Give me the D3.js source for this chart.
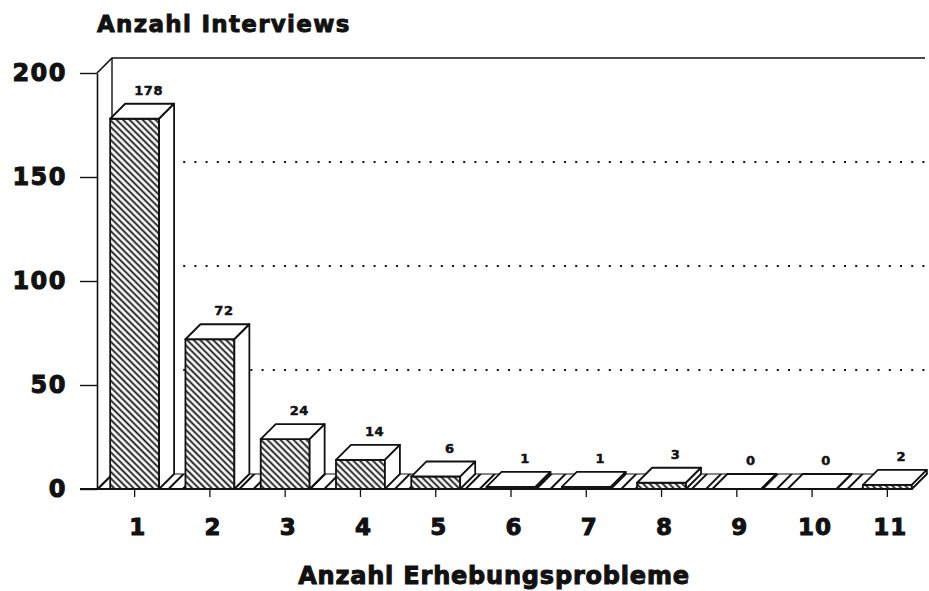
<!DOCTYPE html>
<html lang="de">
	<head>
		<meta charset="utf-8">
		<title>Anzahl Interviews</title>
		<script src="https://d3js.org/d3.v7.min.js"></script>
		<style type="text/css">
			body, html {
				margin: 0;
				padding: 0;
				background: #fff;
			}
			svg text {
				font-family: "DejaVu Sans", sans-serif;
				font-weight: bold;
				fill: #111;
				stroke: #111;
			}
		</style>
	</head>
	<body>
		<div id="chart"></div>
		<script type="text/javascript">

		var categories = ["1", "2", "3", "4", "5", "6", "7", "8", "9", "10", "11"]
		var counts = [178, 72, 24, 14, 6, 1, 1, 3, 0, 0, 2]
		var yTicks = [0, 50, 100, 150, 200]
		var gridValues = [50, 100, 150]
		var yTitle = "Anzahl Interviews"
		var xTitle = "Anzahl Erhebungsprobleme"

		var width = 929, height = 591
		var depth = 15   // 3d offset to the back wall
		var ink = "#111"

		var svg = d3.select("#chart").append("svg")
			.attr("width", width)
			.attr("height", height)

		var x = d3.scaleBand()
			.domain(categories)
			.range([97, 925])
			.paddingInner(0.35)
			.paddingOuter(0.175)

		var y = d3.scaleLinear()
			.domain([0, 200])
			.range([489, 73])

		var defs = svg.append("defs")

		// dense "\" hatch on the bar fronts
		defs.append("pattern")
			.attr("id", "barHatch")
			.attr("patternUnits", "userSpaceOnUse")
			.attr("width", 4.6)
			.attr("height", 4.6)
			.attr("patternTransform", "rotate(-45)")
			.append("line")
			.attr("x1", 2.3).attr("y1", 0)
			.attr("x2", 2.3).attr("y2", 4.6)
			.attr("stroke", ink)
			.attr("stroke-width", 1.8)

		// wide "/" hatch on the floor
		defs.append("pattern")
			.attr("id", "floorHatch")
			.attr("patternUnits", "userSpaceOnUse")
			.attr("width", 10)
			.attr("height", 10)
			.attr("patternTransform", "rotate(45)")
			.append("line")
			.attr("x1", 5).attr("y1", 0)
			.attr("x2", 5).attr("y2", 10)
			.attr("stroke", ink)
			.attr("stroke-width", 2)

		var x0 = x.range()[0]
		var x1 = x(categories[categories.length - 1]) + x.bandwidth()
		var y0 = y(0)

		// back wall top edge and left side wall
		svg.append("path")
			.attr("d", "M" + x0 + "," + y(200) + " L" + (x0 + depth) + "," + (y(200) - depth) +
				" L" + (x.range()[1]) + "," + (y(200) - depth))
			.attr("fill", "none")
			.attr("stroke", ink)
			.attr("stroke-width", 1.6)
		svg.append("line")
			.attr("x1", x0 + depth).attr("y1", y(200) - depth)
			.attr("x2", x0 + depth).attr("y2", y0 - depth)
			.attr("stroke", ink)
			.attr("stroke-width", 1.4)

		// dotted grid on the back wall
		svg.selectAll("line.grid")
			.data(gridValues)
			.enter().append("line")
			.attr("class", "grid")
			.attr("x1", x0 + depth + 4)
			.attr("x2", x.range()[1])
			.attr("y1", d => y(d) - depth)
			.attr("y2", d => y(d) - depth)
			.attr("stroke", ink)
			.attr("stroke-width", 2)
			.attr("stroke-dasharray", "2,9.2")

		// floor
		svg.append("path")
			.attr("d", "M" + x0 + "," + y0 + " L" + (x0 + depth) + "," + (y0 - depth) +
				" L" + (x1 + depth) + "," + (y0 - depth) + " L" + x1 + "," + y0 + "Z")
			.attr("fill", "url(#floorHatch)")
			.attr("stroke", ink)
			.attr("stroke-width", 1.2)

		// bars
		var bars = svg.selectAll("g.bar")
			.data(counts)
			.enter().append("g")
			.attr("class", "bar")

		bars.append("rect")
			.attr("x", (d, i) => x(categories[i]))
			.attr("y", d => y(d))
			.attr("width", x.bandwidth())
			.attr("height", d => y0 - y(d))
			.attr("fill", "#fff")

		bars.append("rect")
			.attr("x", (d, i) => x(categories[i]))
			.attr("y", d => y(d))
			.attr("width", x.bandwidth())
			.attr("height", d => y0 - y(d))
			.attr("fill", "url(#barHatch)")
			.attr("stroke", ink)
			.attr("stroke-width", 1.8)

		// top face
		bars.append("path")
			.attr("d", (d, i) => {
				var bx = x(categories[i]), by = y(d), w = x.bandwidth()
				return "M" + bx + "," + by + " L" + (bx + depth) + "," + (by - depth) +
					" L" + (bx + w + depth) + "," + (by - depth) + " L" + (bx + w) + "," + by + "Z"
			})
			.attr("fill", "#fff")
			.attr("stroke", ink)
			.attr("stroke-width", 1.8)
			.attr("stroke-linejoin", "round")

		// side face
		bars.append("path")
			.attr("d", (d, i) => {
				var bx = x(categories[i]) + x.bandwidth(), by = y(d)
				return "M" + bx + "," + by + " L" + (bx + depth) + "," + (by - depth) +
					" L" + (bx + depth) + "," + (y0 - depth) + " L" + bx + "," + y0 + "Z"
			})
			.attr("fill", "#fff")
			.attr("stroke", ink)
			.attr("stroke-width", 1.8)
			.attr("stroke-linejoin", "round")

		// value labels
		bars.append("text")
			.attr("x", (d, i) => x(categories[i]) + x.bandwidth() / 2 + 14)
			.attr("y", d => y(d) - depth - 9)
			.attr("text-anchor", "middle")
			.attr("font-size", 13)
			.attr("stroke-width", 0.5)
			.attr("letter-spacing", 0.5)
			.text(d => d)

		// y axis
		var yAxis = svg.append("g")
			.attr("transform", "translate(" + x0 + ",0)")
			.call(d3.axisLeft(y).tickValues(yTicks).tickSize(17).tickSizeOuter(0).tickPadding(13))
		yAxis.select(".domain").attr("stroke", ink).attr("stroke-width", 1.6)
		yAxis.selectAll(".tick line").attr("stroke", ink).attr("stroke-width", 1.4)
		yAxis.selectAll(".tick text")
			.attr("font-size", 24)
			.attr("letter-spacing", 1.5)
			.attr("fill", ink)
			.attr("stroke", ink)
			.attr("stroke-width", 1)
			.attr("font-family", "DejaVu Sans")

		// floor front line
		svg.append("line")
			.attr("x1", x0 - 17).attr("x2", x1)
			.attr("y1", y0).attr("y2", y0)
			.attr("stroke", ink)
			.attr("stroke-width", 1.8)

		// x axis
		var xAxis = svg.append("g")
			.attr("transform", "translate(0," + y0 + ")")
			.call(d3.axisBottom(x).tickSize(8).tickPadding(22))
		xAxis.select(".domain").remove()
		xAxis.selectAll(".tick line").attr("stroke", ink).attr("stroke-width", 1.3)
		xAxis.selectAll(".tick text")
			.attr("font-size", 23)
			.attr("dx", 3)
			.attr("letter-spacing", 1)
			.attr("fill", ink)
			.attr("stroke", ink)
			.attr("stroke-width", 1)
			.attr("font-family", "DejaVu Sans")

		// titles
		svg.append("text")
			.attr("x", 97)
			.attr("y", 32)
			.attr("font-size", 23)
			.attr("letter-spacing", 1.3)
			.attr("stroke-width", 0.9)
			.text(yTitle)

		svg.append("text")
			.attr("x", 494)
			.attr("y", 584)
			.attr("text-anchor", "middle")
			.attr("font-size", 24)
			.attr("letter-spacing", 0.8)
			.attr("stroke-width", 1)
			.text(xTitle)

		</script>
	</body>
</html>
